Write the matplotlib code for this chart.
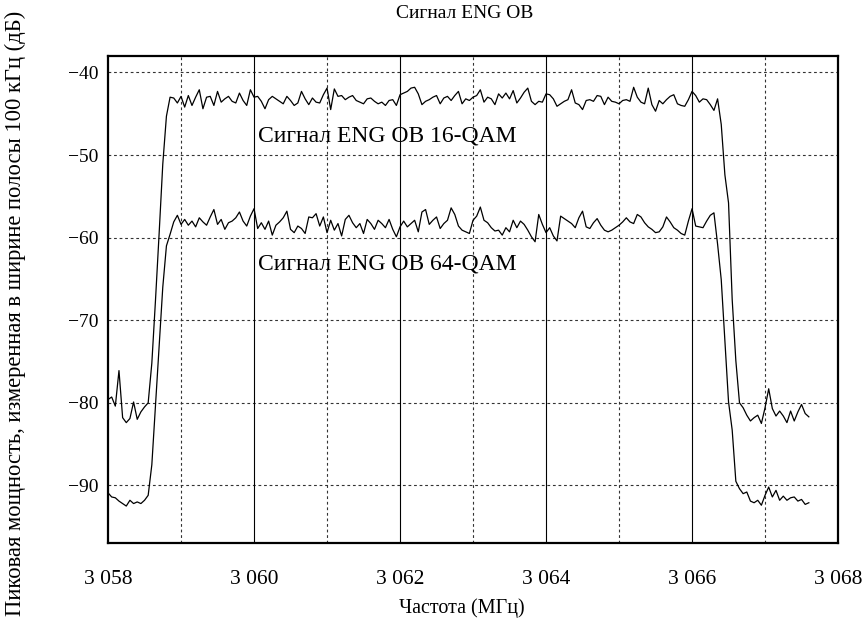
import numpy as np
import matplotlib
matplotlib.use("Agg")
import matplotlib.pyplot as plt

plt.rcParams["font.family"] = ["Liberation Serif", "DejaVu Serif"]

# sweep grid of the analyser (MHz)
FREQ_START = 3058.0
FREQ_STEP = 0.05

# peak power, dB
qam16 = [
    -79.6, -79.3, -80.4, -76.1, -81.8, -82.4, -81.9, -79.9, -82.0, -81.1, -80.5, -80.0,
    -75.2, -67.6, -59.5, -51.1, -45.3, -43.0,
    -43.1, -43.7, -42.9, -44.2, -42.8, -44.0, -43.0, -42.1, -44.4, -43.0, -42.9, -44.0,
    -42.3, -43.6, -43.2, -42.9, -43.5, -43.7, -42.5, -43.4, -44.0, -42.1, -43.0, -42.9,
    -43.5, -44.4, -43.3, -42.9, -43.2, -43.5, -43.8, -42.9, -43.4, -44.0, -43.7, -42.3,
    -43.2,
    -43.9, -43.1, -43.6, -43.7, -42.7, -41.9, -44.5, -42.0, -42.9, -42.8, -43.3, -43.0,
    -42.8, -43.4, -43.6, -43.8, -43.2, -43.1, -43.5, -43.8, -43.6, -44.0, -43.4, -43.3,
    -44.0, -42.7, -42.5, -42.3, -41.9, -41.8, -42.6, -43.9, -43.5, -43.3, -43.0, -42.8,
    -43.8, -43.1, -42.9, -43.4, -42.8, -42.3, -43.8, -43.2, -43.4, -43.0, -42.8, -42.1,
    -43.6, -43.0, -43.2, -43.9,
    -42.6, -43.1, -42.5, -43.2, -42.2, -43.7, -43.1, -42.4, -41.9, -43.5, -43.9, -43.5,
    -43.6, -42.6, -42.7, -43.2, -44.1, -43.8, -43.5, -43.3, -42.1, -43.7, -43.9, -44.5,
    -43.4, -43.3, -43.5, -42.8, -42.9, -43.9, -43.0, -43.5, -43.6, -43.8, -43.4, -43.3,
    -43.5, -41.8, -43.0, -43.6, -43.8, -41.9, -43.9, -44.7, -43.4, -43.8, -43.3, -42.9,
    -42.7, -43.8, -44.0, -44.1, -43.3, -42.3,
    -42.8, -43.6, -43.2, -43.3, -43.9, -44.6, -43.2,
    -46.3, -52.4, -55.8, -67.5, -74.9, -80.0,
    -80.6, -81.5, -82.2, -81.8, -81.5, -82.5, -80.6, -78.3, -80.7, -81.6, -81.0, -81.6,
    -82.4, -81.0, -82.2, -81.1, -80.2, -81.3, -81.7,
]

qam64 = [
    -90.9, -91.4, -91.5, -91.9, -92.2, -92.5, -91.8, -92.2, -92.0, -92.2, -91.8, -91.2,
    -87.5, -80.3, -73.2, -66.0, -61.0, -59.6, -58.1,
    -57.3, -58.4, -57.8, -58.5, -58.0, -58.7, -57.6, -58.1, -58.5, -57.5, -56.6, -58.4,
    -57.8, -59.0, -58.2, -58.0, -57.6, -56.9, -58.0, -58.6, -57.4, -56.5, -58.9, -58.2,
    -59.0, -58.0, -59.7, -58.5, -58.1, -57.6, -56.8, -59.0, -59.4, -58.6,
    -58.9, -59.5, -57.5, -57.6, -57.1, -58.6, -57.5, -59.4, -57.9, -59.1, -58.3, -59.8,
    -57.8, -57.3, -58.2, -58.8, -58.3, -59.5, -57.8, -58.3, -59.0, -57.9, -58.3, -58.8,
    -57.8, -59.0, -59.9, -58.7, -58.0, -58.7, -58.3, -57.9, -59.3, -56.9, -56.6, -58.4,
    -57.9, -57.5, -58.9, -58.3, -57.9, -56.4, -57.2, -58.6, -59.1, -59.3, -59.5, -57.9,
    -57.4, -56.3, -57.9, -58.2, -58.8, -59.2,
    -59.1, -59.7, -58.8, -59.3, -57.9, -58.8, -58.0, -58.4, -59.1, -59.9, -60.5, -57.2,
    -58.4, -59.4, -58.8, -59.8, -60.4, -57.4, -57.7, -58.0, -58.3, -58.8, -57.6, -56.8,
    -58.7, -58.9, -58.2, -57.7, -58.5, -59.1, -59.3, -59.1, -58.8, -58.5, -58.1, -57.6,
    -58.1, -58.3, -57.2, -57.5, -58.2, -58.7, -59.0, -59.4, -59.3, -58.7, -57.5, -58.1,
    -58.8, -59.1, -59.5, -59.7, -58.0, -56.5,
    -58.6, -58.7, -58.8, -58.0, -57.3, -57.0, -60.8,
    -65.1, -72.6, -79.9, -83.3, -89.5, -90.4,
    -91.0, -90.8, -91.9, -92.1, -91.8, -92.4, -91.2, -90.2, -91.4, -90.6, -91.8, -91.3,
    -91.8, -91.5, -91.4, -91.9, -91.7, -92.3, -92.1,
]

xticks = [3058, 3060, 3062, 3064, 3066, 3068]
xtick_labels = ["3 058", "3 060", "3 062", "3 064", "3 066", "3 068"]
yticks = [-40, -50, -60, -70, -80, -90]
ytick_labels = ["\u221240", "\u221250", "\u221260", "\u221270", "\u221280", "\u221290"]

freq = FREQ_START + FREQ_STEP * np.arange(len(qam16))

fig = plt.figure(figsize=(8.67, 6.28), dpi=100)
ax = fig.add_axes([0.1246, 0.135, 0.842, 0.776])

# grid: dashed horizontals, solid verticals on even MHz, dashed on odd
for y in yticks:
    ax.axhline(y, color="#333333", lw=0.8, ls=(0, (2.5, 2.5)), zorder=1)
for x in range(3059, 3068):
    if x % 2 == 0:
        ax.axvline(x, color="black", lw=0.8, zorder=1)
    else:
        ax.axvline(x, color="#333333", lw=0.8, ls=(0, (2.5, 2.5)), zorder=1)

ax.plot(freq, qam16, color="black", lw=0.9, zorder=3)
ax.plot(freq, qam64, color="black", lw=0.9, zorder=3)

ax.text(3060.05, -48.4, "Сигнал ENG OB 16-QAM", fontsize=17, va="baseline", ha="left")
ax.text(3060.05, -63.9, "Сигнал ENG OB 64-QAM", fontsize=17, va="baseline", ha="left")

ax.set_xlim(3058, 3068)
ax.set_ylim(-97, -38)
ax.set_xticks(xticks)
ax.set_xticklabels(xtick_labels)
ax.set_yticks(yticks)
ax.set_yticklabels(ytick_labels)
ax.tick_params(axis="both", length=0, labelsize=14)
ax.tick_params(axis="x", pad=19, labelsize=15.5)
ax.tick_params(axis="y", pad=7)
for s in ax.spines.values():
    s.set_linewidth(1.6)

fig.text(465 / 867, 1 - 13 / 628, "Сигнал ENG OB", fontsize=14, ha="center", va="center")
fig.text(462 / 867, 1 - 608 / 628, "Частота (МГц)", fontsize=14.5, ha="center", va="center")
fig.text(15 / 867, 1 - 313 / 628, "Пиковая мощность, измеренная в ширине полосы 100 кГц (дБ)",
         fontsize=16.3, rotation=90, ha="center", va="center")

plt.savefig("out.png", dpi=100)
plt.close()
